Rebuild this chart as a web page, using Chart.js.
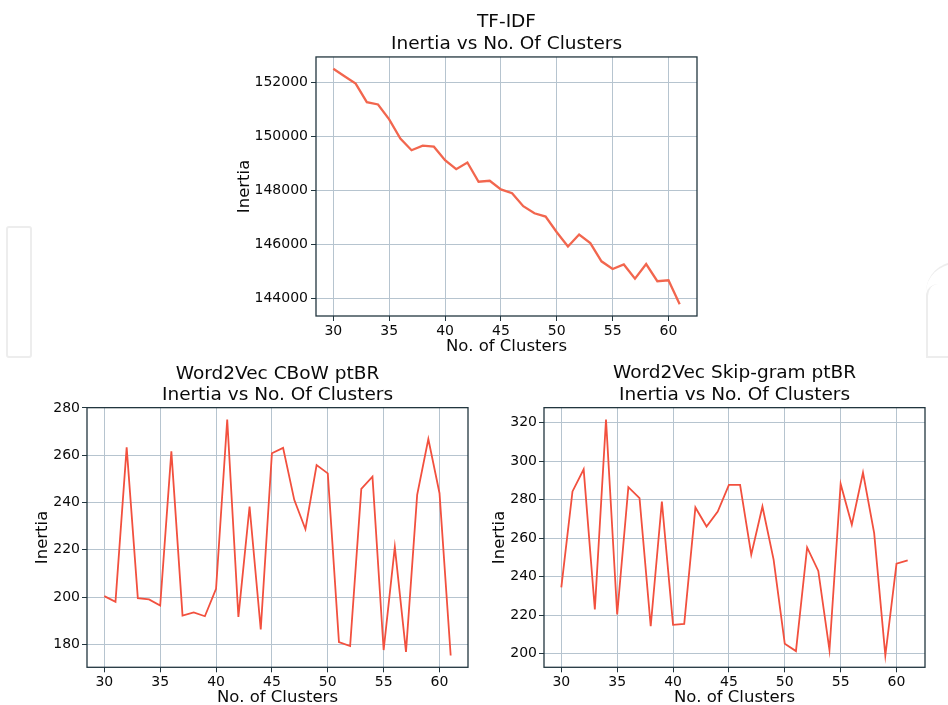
<!DOCTYPE html>
<html>
<head>
<meta charset="utf-8">
<script src="https://cdn.jsdelivr.net/npm/chart.js@4.4.1/dist/chart.umd.min.js"></script>
<style>
  html, body { margin: 0; padding: 0; background: #fff; }
  body { width: 948px; height: 705px; position: relative; overflow: hidden; }
  canvas { position: absolute; }
  .mark { position: absolute; border: 2px solid #ededed; box-sizing: border-box; }
</style>
</head>
<body>
<div class="mark" style="left:6px;top:226px;width:26px;height:132px;border-radius:3px;"></div>
<div class="mark" style="left:926px;top:262px;width:60px;height:40px;border-width:2px 0 0 0;border-radius:30px 0 0 0;"></div>
<div class="mark" style="left:926px;top:284px;width:40px;height:74px;border-width:0 0 2px 2px;border-top-left-radius:12px;"></div>

<canvas id="tfidf" width="490" height="360" style="left:220px;top:0px;"></canvas>
<canvas id="cbow" width="480" height="360" style="left:0px;top:360px;"></canvas>
<canvas id="skip" width="480" height="360" style="left:460px;top:360px;"></canvas>

<script>
// number of clusters tried (x axis)
const clusters = [30, 31, 32, 33, 34, 35, 36, 37, 38, 39, 40, 41, 42, 43, 44, 45,
  46, 47, 48, 49, 50, 51, 52, 53, 54, 55, 56, 57, 58, 59, 60, 61];

const tfidfInertia = [152500, 152220, 151950, 151265, 151180, 150630, 149920, 149490,
  149660, 149620, 149120, 148790, 149035, 148325, 148360, 148040, 147900, 147420,
  147160, 147040, 146460, 145935, 146375, 146060, 145385, 145100, 145270, 144745,
  145285, 144650, 144685, 143800];

const cbowInertia = [200.4, 198, 263.3, 199.5, 199, 196.4, 261.6, 192.2, 193.5, 191.9,
  203.5, 275.1, 191.6, 238.3, 186.3, 260.8, 263.1, 241.1, 228.7, 255.8, 252.3, 181,
  179.3, 245.7, 250.9, 177.6, 221.2, 176.8, 243.2, 266.8, 243.9, 175.3];

const skipInertia = [234.5, 284.3, 295.8, 223, 321.7, 220.4, 286.5, 280.8, 214.3, 279.1,
  215, 215.5, 276, 266.1, 273.9, 287.7, 287.7, 251.5, 276.5, 248.9, 205.2, 201.4,
  255.2, 243, 201.9, 288.2, 267, 294.1, 262.7, 199.1, 246.8, 248.5];

const xTicks = [30, 35, 40, 45, 50, 55, 60];
const tfidfTicks = [144000, 146000, 148000, 150000, 152000];
const cbowTicks = [180, 200, 220, 240, 260, 280];
const skipTicks = [200, 220, 240, 260, 280, 300, 320];

const FONT = "'DejaVu Sans', 'Liberation Sans', sans-serif";
const GRID_COLOR = '#b6c4cf';
const SPINE_COLOR = '#22363f';

// matplotlib style 5% margins around the data
const padRange = (values) => {
  const lo = Math.min(...values);
  const hi = Math.max(...values);
  const m = (hi - lo) * 0.05;
  return { min: lo - m, max: hi + m };
};

// full box around the plot area, like the matplotlib spines
const framePlugin = {
  id: 'frame',
  afterDatasetsDraw(chart) {
    const { ctx, chartArea: { left, top, right, bottom } } = chart;
    ctx.save();
    ctx.strokeStyle = SPINE_COLOR;
    ctx.lineWidth = 1.3;
    ctx.strokeRect(left, top, right - left, bottom - top);
    ctx.restore();
  }
};

/**
 * @description Renders one "Inertia vs No. Of Clusters" line chart.
 */
const renderInertiaChart = ({ id, values, yTicks, title, lineWidth, lineColor, box }) => {
  const xRange = padRange(clusters);
  const yRange = padRange(values);

  new Chart(document.getElementById(id), {
    type: 'line',
    data: {
      datasets: [{
        data: clusters.map((c, i) => ({ x: c, y: values[i] })),
        borderColor: lineColor,
        borderWidth: lineWidth,
        pointRadius: 0,
        tension: 0,
        fill: false,
      }]
    },
    options: {
      responsive: false,
      animation: false,
      events: [],
      layout: { padding: { left: 0, top: 0, bottom: 0, right: box.right } },
      plugins: {
        legend: { display: false },
        tooltip: { enabled: false },
        title: {
          display: true,
          fullSize: false,
          text: title,
          color: '#0a0a0a',
          font: { family: FONT, size: 18.5, weight: 'normal', lineHeight: 1.15 },
          padding: box.titlePad,
        },
      },
      scales: {
        x: {
          type: 'linear',
          min: xRange.min,
          max: xRange.max,
          afterBuildTicks: (scale) => { scale.ticks = xTicks.map(v => ({ value: v })); },
          afterFit: (scale) => { scale.height = box.xHeight; },
          grid: { color: GRID_COLOR, lineWidth: 1, tickColor: SPINE_COLOR, tickLength: 5 },
          border: { display: false },
          ticks: { color: '#0a0a0a', padding: 2, maxRotation: 0, font: { family: FONT, size: 14 } },
          title: {
            display: true,
            text: 'No. of Clusters',
            color: '#0a0a0a',
            font: { family: FONT, size: 16.5, lineHeight: 1.2 },
            padding: { top: 0, bottom: box.xTitleBottom },
          },
        },
        y: {
          type: 'linear',
          min: yRange.min,
          max: yRange.max,
          afterBuildTicks: (scale) => { scale.ticks = yTicks.map(v => ({ value: v })); },
          afterFit: (scale) => { scale.width = box.yWidth; },
          grid: { color: GRID_COLOR, lineWidth: 1, tickColor: SPINE_COLOR, tickLength: 5 },
          border: { display: false },
          ticks: {
            color: '#0a0a0a',
            padding: box.yTickPad,
            font: { family: FONT, size: 14 },
            callback: (v) => String(v),
          },
          title: {
            display: true,
            text: 'Inertia',
            color: '#0a0a0a',
            font: { family: FONT, size: 16.5, lineHeight: 1.2 },
            padding: { top: box.yTitleTop, bottom: 0 },
          },
        },
      },
    },
    plugins: [framePlugin],
  });
};

renderInertiaChart({
  id: 'tfidf',
  values: tfidfInertia,
  yTicks: tfidfTicks,
  title: ['TF-IDF', 'Inertia vs No. Of Clusters'],
  lineWidth: 2.3,
  lineColor: '#f2664e',
  box: { yWidth: 96, xHeight: 44, right: 13, titlePad: { top: 12, bottom: 2.4 },
    xTitleBottom: 3, yTitleTop: 14.6, yTickPad: 3 },
});

renderInertiaChart({
  id: 'cbow',
  values: cbowInertia,
  yTicks: cbowTicks,
  title: ['Word2Vec CBoW ptBR', 'Inertia vs No. Of Clusters'],
  lineWidth: 1.8,
  lineColor: '#f2503e',
  box: { yWidth: 87, xHeight: 52.7, right: 12, titlePad: { top: 3.3, bottom: 1.8 },
    xTitleBottom: 12, yTitleTop: 32.6, yTickPad: 2 },
});

renderInertiaChart({
  id: 'skip',
  values: skipInertia,
  yTicks: skipTicks,
  title: ['Word2Vec Skip-gram ptBR', 'Inertia vs No. Of Clusters'],
  lineWidth: 1.8,
  lineColor: '#f2503e',
  box: { yWidth: 84, xHeight: 52.7, right: 15, titlePad: { top: 3, bottom: 2.1 },
    xTitleBottom: 12, yTitleTop: 29.4, yTickPad: 2 },
});
</script>
</body>
</html>
